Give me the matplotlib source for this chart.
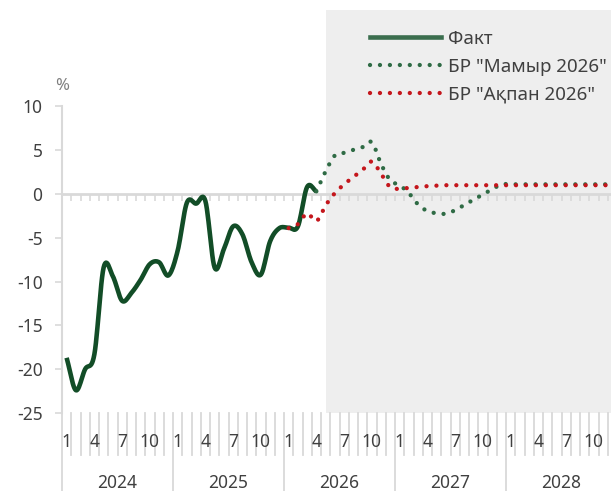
import matplotlib.pyplot as plt
import numpy as np
from matplotlib.lines import Line2D

plt.rcParams['font.family'] = ['Noto Sans', 'DejaVu Sans']
plt.rcParams['axes.unicode_minus'] = False

years = ['2024', '2025', '2026', '2027', '2028']
month_labels = ['1', '4', '7', '10']

# Fact: Jan 2024 .. Apr 2026
fact = [-18.7, -22.4, -20.0, -18.3, -8.4, -9.4, -12.2, -11.3, -9.8, -8.0,
        -7.8, -9.3, -6.5, -1.0, -1.1, -0.8, -8.4, -6.3, -3.7, -4.6,
        -7.8, -9.2, -5.4, -3.9, -3.85, -3.7, 0.8, 0.3]
# BR "Mamyr 2026": Apr 2026 .. Dec 2028
br_may = [0.3, 2.6, 4.4, 4.7, 5.05, 5.35, 5.9, 3.4, 1.55, 1.0,
          0.1, -1.2, -1.95, -2.2, -2.25, -1.85, -1.25, -0.65, -0.05, 0.55,
          1.1, 1.1, 1.1, 1.1, 1.1, 1.1, 1.1, 1.1, 1.1, 1.1,
          1.1, 1.1, 1.1]
# BR "Akpan 2026": Jan 2026 .. Dec 2028
br_feb = [-3.9, -3.45, -2.2, -3.1, -1.3, 0.1, 1.1, 1.95, 2.75, 3.7,
          2.3, 0.75, 0.6, 0.7, 0.8, 0.9, 0.95, 1.0, 1.0, 1.0,
          1.0, 1.0, 1.0, 1.0, 1.0, 1.0, 1.0, 1.0, 1.0, 1.0,
          1.0, 1.0, 1.0, 1.0, 1.0, 1.0]

x_fact = np.arange(0, len(fact))
x_may = np.arange(27, 27 + len(br_may))
x_feb = np.arange(24, 24 + len(br_feb))


def smooth(x, y, n=12):
    # catmull-rom, like excel's smoothed lines
    x = np.asarray(x, float)
    y = np.asarray(y, float)
    px = np.concatenate([[2 * x[0] - x[1]], x, [2 * x[-1] - x[-2]]])
    py = np.concatenate([[2 * y[0] - y[1]], y, [2 * y[-1] - y[-2]]])
    t = np.linspace(0, 1, n, endpoint=False)
    xs, ys = [], []
    for i in range(1, len(px) - 2):
        for p, out in ((px, xs), (py, ys)):
            p0, p1, p2, p3 = p[i - 1], p[i], p[i + 1], p[i + 2]
            out.extend(0.5 * (2 * p1 + (-p0 + p2) * t
                              + (2 * p0 - 5 * p1 + 4 * p2 - p3) * t ** 2
                              + (-p0 + 3 * p1 - 3 * p2 + p3) * t ** 3))
    xs.append(x[-1])
    ys.append(y[-1])
    return np.array(xs), np.array(ys)


W, H = 611, 491
fig = plt.figure(figsize=(W / 100, H / 100), dpi=100)
ax = fig.add_axes([62 / W, (H - 413) / H, (617 - 62) / W, (413 - 10) / H])

grey = '#D9D9D9'
txt = '#404040'
c_fact = '#124D27'
c_may = '#2F6B45'
c_feb = '#C4161C'

ax.set_xlim(-0.5, 59.5)
ax.set_ylim(-25, 21.0)

ax.axvspan(28, 60, color='#EEEEEE', zorder=0, lw=0)
ax.axhline(0, color=grey, lw=2, zorder=1)
ax.vlines(np.arange(0.5, 60), -0.8, 0, color=grey, lw=1.2, zorder=1)

dots = dict(lw=3.1, linestyle=(0, (0.01, 2.3)), dash_capstyle='round')
sx, sy = smooth(x_fact, fact)
ax.plot(sx, sy, color=c_fact, lw=3.3, solid_capstyle='butt', zorder=3)
sx, sy = smooth(x_may, br_may)
ax.plot(sx, sy, color=c_may, zorder=4, **dots)
sx, sy = smooth(x_feb, br_feb)
ax.plot(sx, sy, color=c_feb, zorder=5, **dots)

for s in ['top', 'right', 'bottom']:
    ax.spines[s].set_visible(False)
ax.spines['left'].set_bounds(-25, 10)
ax.spines['left'].set_color(grey)
ax.spines['left'].set_linewidth(1.5)

ax.set_yticks(range(-25, 11, 5))
ax.tick_params(axis='y', direction='out', length=5, color=grey, width=1.2,
               labelsize=12.5, labelcolor=txt, pad=9)
ax.set_xticks([])
ax.text(-0.5, 12.3, '%', fontsize=12, color='#7F7F7F', ha='center', va='center')

# category axis
trans = ax.get_xaxis_transform()
for k in range(61):
    xb = k - 0.5
    low = -0.1935 if k % 12 == 0 else -0.104
    ax.add_line(Line2D([xb, xb], [0, low], transform=trans, color=grey,
                       lw=1.3, clip_on=False))
for i in range(60):
    if i % 12 in (0, 3, 6, 9):
        ax.text(i, -0.073, month_labels[(i % 12) // 3], transform=trans,
                ha='center', va='center', fontsize=12.5, color=txt)
for j, yr in enumerate(years):
    ax.text(12 * j + 5.5, -0.174, yr, transform=trans, ha='center',
            va='center', fontsize=12.5, color=txt)

handles = [Line2D([], [], color='#3B6E4E', lw=3.3),
           Line2D([], [], color=c_may, **dots),
           Line2D([], [], color=c_feb, **dots)]
labels = ['Факт', 'БР "Мамыр 2026"', 'БР "Ақпан 2026"']
ax.legend(handles, labels, loc='upper left', bbox_to_anchor=(353 / W, 1 - 13 / H),
          bbox_transform=fig.transFigure, frameon=False, fontsize=13.5,
          handlelength=3.8, handletextpad=0.35, labelspacing=0.53,
          labelcolor=txt)

fig.savefig('out.png', dpi=100)
